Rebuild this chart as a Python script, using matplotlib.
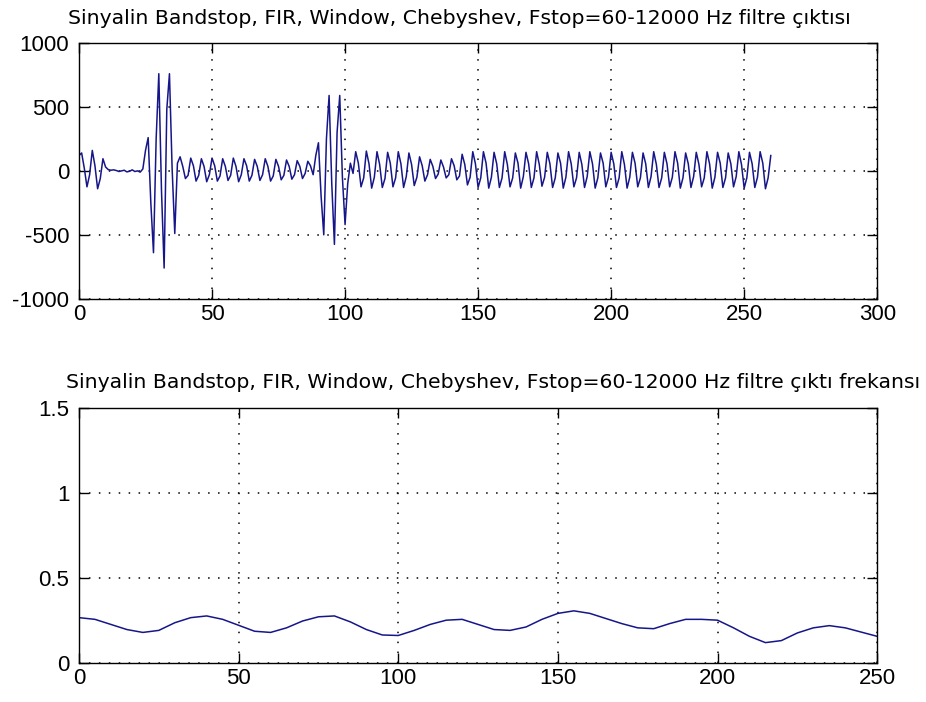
import numpy as np
import matplotlib
matplotlib.use("Agg")
import matplotlib.pyplot as plt

# Filtered time-domain signal (samples 0..260)
signal_out = [
    120, 140, 20, -125, -30, 160, 40, -140, -60, 95,
    30, 10, 5, 8, 3, -5, 0, 5, -8, -3,
    8, -5, 0, -10, 15, 160, 260, -250, -640, 250,
    760, -150, -760, 480, 760, 20, -490, 60, 110, 35,
    -60, -35, 100, 40, -80, -35, 95, 35, -85, -30,
    100, 40, -80, -40, 95, 35, -75, -35, 100, 35,
    -85, -30, 95, 40, -80, -35, 90, 35, -75, -30,
    95, 35, -80, -40, 90, 35, -70, -35, 85, 35,
    -65, -30, 80, 35, -60, -20, 75, 40, -30, 120,
    220, -200, -500, 250, 590, -100, -575, 300, 590, -50,
    -420, -100, 60, -20,
    150, 60, -125, -55,
    155, 55, -135, -50,
    150, 50, -130, -60,
    145, 60, -125, -55,
    150, 55, -130, -45,
    140, 50, -115, -50,
    110, 40, -80, -30,
    90, 35, -60, -25,
    85, 30, -55, -30,
    95, 40, -70, -40,
    130, 50, -110, -50,
    150, 55, -130, -55,
    150, 60, -135, -50,
    145, 55, -130, -55,
    150, 50, -125, -55,
    140, 60, -135, -45,
    145, 55, -130, -55,
    150, 50, -120, -50,
    145, 55, -130, -55,
    140, 60, -135, -50,
    150, 55, -125, -55,
    145, 50, -130, -45,
    150, 55, -135, -55,
    140, 60, -125, -50,
    145, 55, -130, -55,
    150, 50, -135, -50,
    145, 60, -125, -55,
    140, 55, -130, -45,
    150, 50, -130, -55,
    145, 55, -125, -50,
    150, 60, -135, -55,
    140, 55, -130, -45,
    145, 50, -125, -55,
    150, 55, -135, -50,
    145, 60, -130, -55,
    140, 55, -125, -45,
    150, 50, -135, -55,
    145, 55, -130, -50,
    150, 60, -140, -55,
    120,
]

# Frequency-domain magnitude of the filter output
freq_bins = [0, 5, 10, 15, 20, 25, 30, 35, 40, 45, 50, 55, 60, 65, 70, 75, 80,
             85, 90, 95, 100, 105, 110, 115, 120, 125, 130, 135, 140, 145, 150,
             155, 160, 165, 170, 175, 180, 185, 190, 195, 200, 205, 210, 215,
             220, 225, 230, 235, 240, 245, 250]
freq_mag = [0.265, 0.255, 0.225, 0.195, 0.178, 0.19, 0.235, 0.265, 0.275, 0.255,
            0.22, 0.185, 0.178, 0.205, 0.245, 0.27, 0.275, 0.24, 0.195, 0.163,
            0.16, 0.19, 0.225, 0.25, 0.255, 0.225, 0.195, 0.19, 0.21, 0.255,
            0.29, 0.305, 0.29, 0.26, 0.23, 0.205, 0.2, 0.23, 0.255, 0.255,
            0.25, 0.205, 0.155, 0.118, 0.13, 0.175, 0.205, 0.218, 0.205, 0.18,
            0.155]

top_title = "Sinyalin Bandstop, FIR, Window, Chebyshev, Fstop=60-12000 Hz filtre çıktısı"
bottom_title = "Sinyalin Bandstop, FIR, Window, Chebyshev, Fstop=60-12000 Hz filtre çıktı frekansı"

plt.rcParams["font.family"] = ["Liberation Sans", "DejaVu Sans"]
plt.rcParams["axes.unicode_minus"] = False
line_color = "#16168a"
grid_style = dict(color="black", linestyle=(0, (1.0, 5.5)), linewidth=1.1)
title_font = dict(family=["DejaVu Sans"], size=14.7)

fig = plt.figure(figsize=(9.26, 7.02), dpi=100)
ax1 = fig.add_axes([0.0853, 0.5745, 0.862, 0.3642])
ax2 = fig.add_axes([0.0853, 0.0560, 0.862, 0.3632])


def style_axes(ax):
    for sp in ax.spines.values():
        sp.set_linewidth(1.0)
        sp.set_color("black")
    ax.tick_params(direction="in", length=7, width=1.0, top=True, right=True,
                   labelsize=16, colors="black")
    ax.tick_params(axis="x", pad=4)
    ax.tick_params(axis="y", pad=7)
    ax.grid(True, **grid_style)
    ax.set_axisbelow(True)


ax1.plot(np.arange(len(signal_out)), signal_out, color=line_color, linewidth=1.1)
ax1.set_xlim(0, 300)
ax1.set_ylim(-1000, 1000)
ax1.set_xticks([0, 50, 100, 150, 200, 250, 300])
ax1.set_yticks([-1000, -500, 0, 500, 1000])
style_axes(ax1)
ax1.set_title(top_title, fontdict=title_font, loc="left", x=-0.014, pad=14)

ax2.plot(freq_bins, freq_mag, color=line_color, linewidth=1.1)
ax2.set_xlim(0, 250)
ax2.set_ylim(0, 1.5)
ax2.set_xticks([0, 50, 100, 150, 200, 250])
ax2.set_yticks([0, 0.5, 1, 1.5])
ax2.set_yticklabels(["0", "0.5", "1", "1.5"])
style_axes(ax2)
ax2.set_title(bottom_title, fontdict=title_font, loc="left", x=-0.016, pad=14)

fig.savefig("out.png", dpi=100)
